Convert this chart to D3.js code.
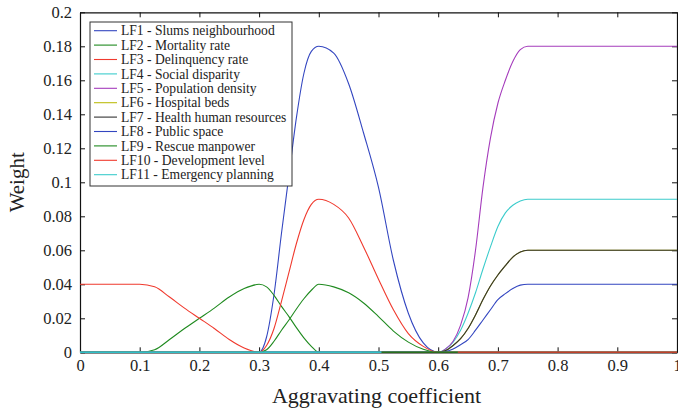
<!DOCTYPE html>
<html>
<head>
<meta charset="utf-8">
<script src="https://cdn.jsdelivr.net/npm/d3@7"></script>
<style>
  html, body { margin: 0; padding: 0; background: #fff; }
  svg { display: block; }
  text { font-family: "Liberation Serif", "Times New Roman", serif; fill: #222; }
</style>
</head>
<body>
<svg id="chart" width="678" height="411"></svg>
<script>
// Aggravating coefficient grid (x)
const alpha = [0, 0.05, 0.1, 0.125, 0.15, 0.175, 0.2, 0.225, 0.25, 0.275,
  0.3, 0.3125, 0.325, 0.3375, 0.35, 0.3625, 0.375, 0.3875, 0.4, 0.425,
  0.45, 0.475, 0.5, 0.525, 0.55, 0.575, 0.6, 0.6125, 0.625, 0.6375,
  0.65, 0.6625, 0.675, 0.6875, 0.7, 0.7125, 0.725, 0.7375, 0.75, 0.8,
  0.9, 1.0];

// Weight series
const LF1 = [0, 0, 0, 0, 0, 0, 0, 0, 0, 0,
  0, 0.009, 0.034, 0.070, 0.104, 0.138, 0.164, 0.177, 0.18, 0.176,
  0.158, 0.129, 0.097, 0.054, 0.023, 0.0055, 0, 0, 0, 0,
  0, 0, 0, 0, 0, 0, 0, 0, 0, 0,
  0, 0];
const LF2 = [0, 0, 0, 0.0015, 0.0075, 0.014, 0.02, 0.026, 0.0325, 0.0375,
  0.04, 0.0385, 0.0335, 0.027, 0.021, 0.0145, 0.0085, 0.0035, 0, 0,
  0, 0, 0, 0, 0, 0, 0, 0, 0, 0,
  0, 0, 0, 0, 0, 0, 0, 0, 0, 0,
  0, 0];
const LF3 = [0.04, 0.04, 0.04, 0.0385, 0.0325, 0.026, 0.02, 0.014, 0.0075, 0.0025,
  0, 0, 0, 0, 0, 0, 0, 0, 0, 0,
  0, 0, 0, 0, 0, 0, 0, 0, 0, 0,
  0, 0, 0, 0, 0, 0, 0, 0, 0, 0,
  0, 0];
const LF4 = [0, 0, 0, 0, 0, 0, 0, 0, 0, 0,
  0, 0, 0, 0, 0, 0, 0, 0, 0, 0,
  0, 0, 0, 0, 0, 0, 0, 0.002, 0.006, 0.013,
  0.023, 0.035, 0.049, 0.062, 0.074, 0.082, 0.0865, 0.089, 0.09, 0.09,
  0.09, 0.09];
const LF5 = [0, 0, 0, 0, 0, 0, 0, 0, 0, 0,
  0, 0, 0, 0, 0, 0, 0, 0, 0, 0,
  0, 0, 0, 0, 0, 0, 0, 0.002, 0.0065, 0.016,
  0.032, 0.060, 0.097, 0.126, 0.1465, 0.160, 0.171, 0.178, 0.18, 0.18,
  0.18, 0.18];
const LF6 = [0, 0, 0, 0, 0, 0, 0, 0, 0, 0,
  0, 0, 0, 0, 0, 0, 0, 0, 0, 0,
  0, 0, 0, 0, 0, 0, 0, 0.001, 0.004, 0.008,
  0.014, 0.022, 0.031, 0.039, 0.0455, 0.051, 0.056, 0.059, 0.06, 0.06,
  0.06, 0.06];
const LF7 = [0, 0, 0, 0, 0, 0, 0, 0, 0, 0,
  0, 0, 0, 0, 0, 0, 0, 0, 0, 0,
  0, 0, 0, 0, 0, 0, 0, 0.001, 0.004, 0.008,
  0.014, 0.022, 0.031, 0.039, 0.0455, 0.051, 0.056, 0.059, 0.06, 0.06,
  0.06, 0.06];
const LF8 = [0, 0, 0, 0, 0, 0, 0, 0, 0, 0,
  0, 0, 0, 0, 0, 0, 0, 0, 0, 0,
  0, 0, 0, 0, 0, 0, 0, 0.0005, 0.002, 0.0045,
  0.0075, 0.013, 0.019, 0.025, 0.031, 0.0345, 0.0375, 0.0395, 0.04, 0.04,
  0.04, 0.04];
const LF9 = [0, 0, 0, 0, 0, 0, 0, 0, 0, 0,
  0, 0.0015, 0.0065, 0.013, 0.019, 0.0255, 0.0315, 0.0365, 0.04, 0.0385,
  0.035, 0.029, 0.021, 0.0125, 0.006, 0.0018, 0, 0, 0, 0,
  0, 0, 0, 0, 0, 0, 0, 0, 0, 0,
  0, 0];
const LF10 = [0, 0, 0, 0, 0, 0, 0, 0, 0, 0,
  0, 0.004, 0.014, 0.030, 0.047, 0.064, 0.078, 0.087, 0.09, 0.087,
  0.079, 0.062, 0.043, 0.025, 0.011, 0.0035, 0, 0, 0, 0,
  0, 0, 0, 0, 0, 0, 0, 0, 0, 0,
  0, 0];
const LF11 = [0, 0, 0, 0, 0, 0, 0, 0, 0, 0,
  0, 0, 0, 0, 0, 0, 0, 0, 0, 0,
  0, 0, 0, 0, 0, 0, 0, 0, 0, 0,
  0, 0, 0, 0, 0, 0, 0, 0, 0, 0,
  0, 0];

const seriesNames = ["LF1 - Slums neighbourhood", "LF2 - Mortality rate", "LF3 - Delinquency rate",
  "LF4 - Social disparity", "LF5 - Population density", "LF6 - Hospital beds",
  "LF7 - Health human resources", "LF8 - Public space", "LF9 - Rescue manpower",
  "LF10 - Development level", "LF11 - Emergency planning"];
const seriesValues = [LF1, LF2, LF3, LF4, LF5, LF6, LF7, LF8, LF9, LF10, LF11];
const seriesColors = ["#3346c0", "#1f8a1f", "#f03a2e", "#3ccccc", "#a53cbc", "#bcbc10",
  "#333333", "#3346c0", "#1f8a1f", "#f03a2e", "#3ccccc"];

// Zero-level segments that show on top along the baseline: [series index, from, to, colour]
const baseSegSeries = [10, 1, 2];
const baseSegFrom = [0, 0.505, 0.633];
const baseSegTo = [0.505, 0.633, 1.0];
const baseSegColor = ["#30c0c8", "#2a6e1c", "#c0402a"];

const xTicks = [0, 0.1, 0.2, 0.3, 0.4, 0.5, 0.6, 0.7, 0.8, 0.9, 1];
const xTickLabels = ["0", "0.1", "0.2", "0.3", "0.4", "0.5", "0.6", "0.7", "0.8", "0.9", "1"];
const yTicks = [0, 0.02, 0.04, 0.06, 0.08, 0.1, 0.12, 0.14, 0.16, 0.18, 0.2];
const yTickLabels = ["0", "0.02", "0.04", "0.06", "0.08", "0.1", "0.12", "0.14", "0.16", "0.18", "0.2"];

const svg = d3.select("#chart");
const L = 80, R = 677, T = 12.3, B = 352.3;
const x = d3.scaleLinear().domain([0, 1]).range([L, R]);
const y = d3.scaleLinear().domain([0, 0.2]).range([B, T]);

// Axes
const fmtX = d => xTickLabels[xTicks.indexOf(d)];
const fmtY = d => yTickLabels[yTicks.indexOf(d)];
const gx = svg.append("g").attr("transform", `translate(0,${B})`)
  .call(d3.axisBottom(x).tickValues(xTicks).tickFormat(fmtX).tickSizeInner(-5).tickSizeOuter(0).tickPadding(7));
const gxt = svg.append("g").attr("transform", `translate(0,${T})`)
  .call(d3.axisTop(x).tickValues(xTicks).tickFormat("").tickSizeInner(-5).tickSizeOuter(0));
const gy = svg.append("g").attr("transform", `translate(${L},0)`)
  .call(d3.axisLeft(y).tickValues(yTicks).tickFormat(fmtY).tickSizeInner(-5).tickSizeOuter(0).tickPadding(8));
const gyr = svg.append("g").attr("transform", `translate(${R},0)`)
  .call(d3.axisRight(y).tickValues(yTicks).tickFormat("").tickSizeInner(-5).tickSizeOuter(0));
[gx, gxt, gy, gyr].forEach(g => {
  g.selectAll(".domain").attr("stroke", "#111").attr("stroke-width", 1.2);
  g.selectAll(".tick line").attr("stroke", "#111").attr("stroke-width", 1);
  g.selectAll(".tick text").attr("font-family", "Liberation Serif").attr("font-size", 16.5).attr("fill", "#222");
});

// Lines
const line = d3.line().x((d, i) => x(alpha[i])).y(d => y(d)).curve(d3.curveMonotoneX);
svg.append("clipPath").attr("id", "plotclip").append("rect")
  .attr("x", L).attr("y", T - 1).attr("width", R - L).attr("height", B - T + 2);
const gl = svg.append("g").attr("clip-path", "url(#plotclip)");
seriesValues.forEach((vals, k) => {
  gl.append("path").attr("d", line(vals)).attr("fill", "none")
    .attr("stroke", seriesColors[k]).attr("stroke-width", 1.1);
});
// baseline segments on top
baseSegSeries.forEach((k, j) => {
  const id = "seg" + j;
  svg.append("clipPath").attr("id", id).append("rect")
    .attr("x", x(baseSegFrom[j])).attr("y", T).attr("width", x(baseSegTo[j]) - x(baseSegFrom[j])).attr("height", B - T + 3);
  svg.append("path").attr("clip-path", `url(#${id})`).attr("d", line(seriesValues[k]))
    .attr("fill", "none").attr("stroke", baseSegColor[j]).attr("stroke-width", 1.6);
});

// Axis titles
svg.append("text").attr("x", (L + R) / 2 - 2).attr("y", 403).attr("text-anchor", "middle")
  .attr("font-size", 22).text("Aggravating coefficient");
svg.append("text").attr("transform", `translate(24,${(T + B) / 2}) rotate(-90)`).attr("text-anchor", "middle")
  .attr("font-size", 21).text("Weight");

// Legend
const lg = svg.append("g");
const lx = 90, ly = 22, lw = 202, lh = 164, step = 14.4;
lg.append("rect").attr("x", lx).attr("y", ly).attr("width", lw).attr("height", lh)
  .attr("fill", "#fff").attr("stroke", "#333").attr("stroke-width", 1);
seriesNames.forEach((name, k) => {
  const yy = ly + 8.7 + k * step;
  lg.append("line").attr("x1", lx + 4).attr("x2", lx + 27).attr("y1", yy).attr("y2", yy)
    .attr("stroke", seriesColors[k]).attr("stroke-width", 1.1);
  lg.append("text").attr("x", lx + 31).attr("y", yy).attr("dy", "0.35em")
    .attr("font-size", 13.6).text(name);
});
</script>
</body>
</html>
